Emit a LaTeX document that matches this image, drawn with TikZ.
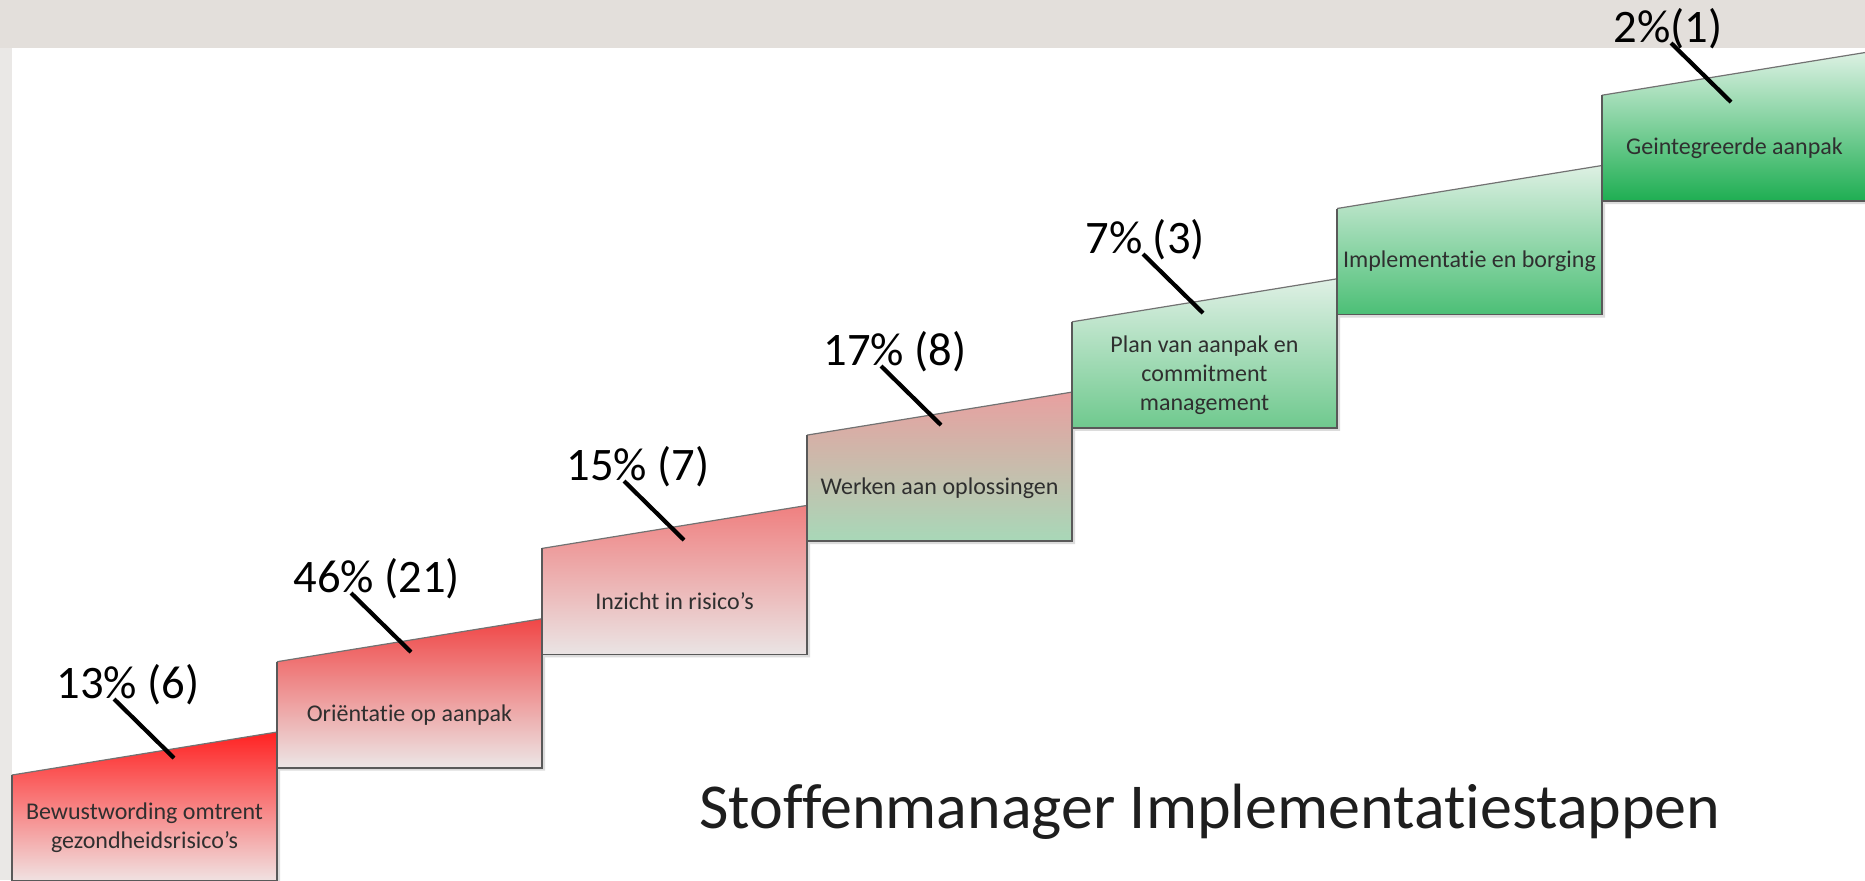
\documentclass[tikz,border=0pt]{standalone}
\usepackage{fontspec}
\setmainfont{Carlito}[Ligatures=CommonOff]
\usetikzlibrary{calc}

\definecolor{bandgray}{HTML}{E3DFDB}
\definecolor{stripgray}{HTML}{EAE8E6}
\definecolor{edgegray}{HTML}{595959}
\definecolor{shadowgray}{HTML}{DCDCDC}
\definecolor{labelgray}{HTML}{2F2F2F}
\definecolor{titleblack}{HTML}{1E1E1E}
\definecolor{redAt}{HTML}{FF2222}
\definecolor{redAb}{HTML}{F0E2E2}
\definecolor{redBt}{HTML}{F04646}
\definecolor{redBb}{HTML}{ECE6E6}
\definecolor{redCt}{HTML}{EF8080}
\definecolor{redCb}{HTML}{EAE4E4}
\definecolor{mixDt}{HTML}{E8A0A0}
\definecolor{mixDb}{HTML}{A8D8B8}
\definecolor{greenEt}{HTML}{DFF0E5}
\definecolor{greenEb}{HTML}{6FC98E}
\definecolor{greenFt}{HTML}{DDF0E3}
\definecolor{greenFb}{HTML}{4CBF76}
\definecolor{greenGt}{HTML}{DCF1E3}
\definecolor{greenGb}{HTML}{1EAE52}

\begin{document}
\begin{tikzpicture}[x=0.5pt, y=-0.5pt,
    stepedge/.style={draw=edgegray, line width=0.9pt, line join=miter},
    topedge/.style={draw=edgegray!85, line width=0.6pt},
    steptext/.style={font=\fontsize{12}{14.5}\selectfont, text=labelgray, align=center, inner sep=0pt},
    pct/.style={font=\fontsize{23.3}{28}\selectfont, anchor=base west, inner sep=0pt},
    leader/.style={line width=2.1pt}]
\useasboundingbox (0,0) rectangle (1865,880);
\fill[white] (0,0) rectangle (1865,880);
\fill[bandgray] (0,0) rectangle (1865,48);
\fill[stripgray] (0,48) rectangle (12,880);

% the seven steps
\foreach \i/\ctop/\cbot/\txt in {
    0/redAt/redAb/{Bewustwording omtrent\\gezondheidsrisico’s},
    1/redBt/redBb/{Oriëntatie op aanpak},
    2/redCt/redCb/{Inzicht in risico’s},
    3/mixDt/mixDb/{Werken aan oplossingen},
    4/greenEt/greenEb/{Plan van aanpak en\\commitment\\management},
    5/greenFt/greenFb/{Implementatie en borging},
    6/greenGt/greenGb/{Geintegreerde aanpak}}{
    \pgfmathsetmacro{\xl}{12+265*\i}
    \pgfmathsetmacro{\xr}{\xl+265}
    \pgfmathsetmacro{\yt}{775-113.3*\i}
    \pgfmathsetmacro{\ytr}{\yt-43}
    \pgfmathsetmacro{\yb}{\yt+106}
    \fill[shadowgray, shift={(3,3)}] (\xl,\yt) -- (\xr,\ytr) -- (\xr,\yb) -- (\xl,\yb) -- cycle;
    \shade[top color=\ctop, bottom color=\cbot] (\xl,\yt) -- (\xr,\ytr) -- (\xr,\yb) -- (\xl,\yb) -- cycle;
    \draw[topedge] (\xl,\yt) -- (\xr,\ytr);
    \draw[stepedge] (\xr,\ytr) -- (\xr,\yb) -- (\xl,\yb) -- (\xl,\yt);
    \node[steptext] (s\i) at ({\xl+132.5},{(\yt+\yb)/2}) {\txt};
}

% percentages with leader lines
\foreach \n/\px/\py/\val in {1/56/698/{13\% (6)}, 2/293/592/{46\% (21)},
    3/566/480/{15\% (7)}, 4/823/365/{17\% (8)}, 5/1085/253/{7\% (3)}, 7/1613/42/{2\%(1)}}{
    \node[pct] (p\n) at (\px,\py) {\val};
    \coordinate (t\n) at ($(p\n.base west)+(118,60)$);
    \draw[leader] ($(p\n.base west)+(58,1)$) -- (t\n);
}

\node[font=\fontsize{32}{38}\selectfont, text=titleblack, anchor=base west, inner sep=0pt]
    (title) at (699,828) {Stoffenmanager Implementatiestappen};
\end{tikzpicture}
\end{document}
